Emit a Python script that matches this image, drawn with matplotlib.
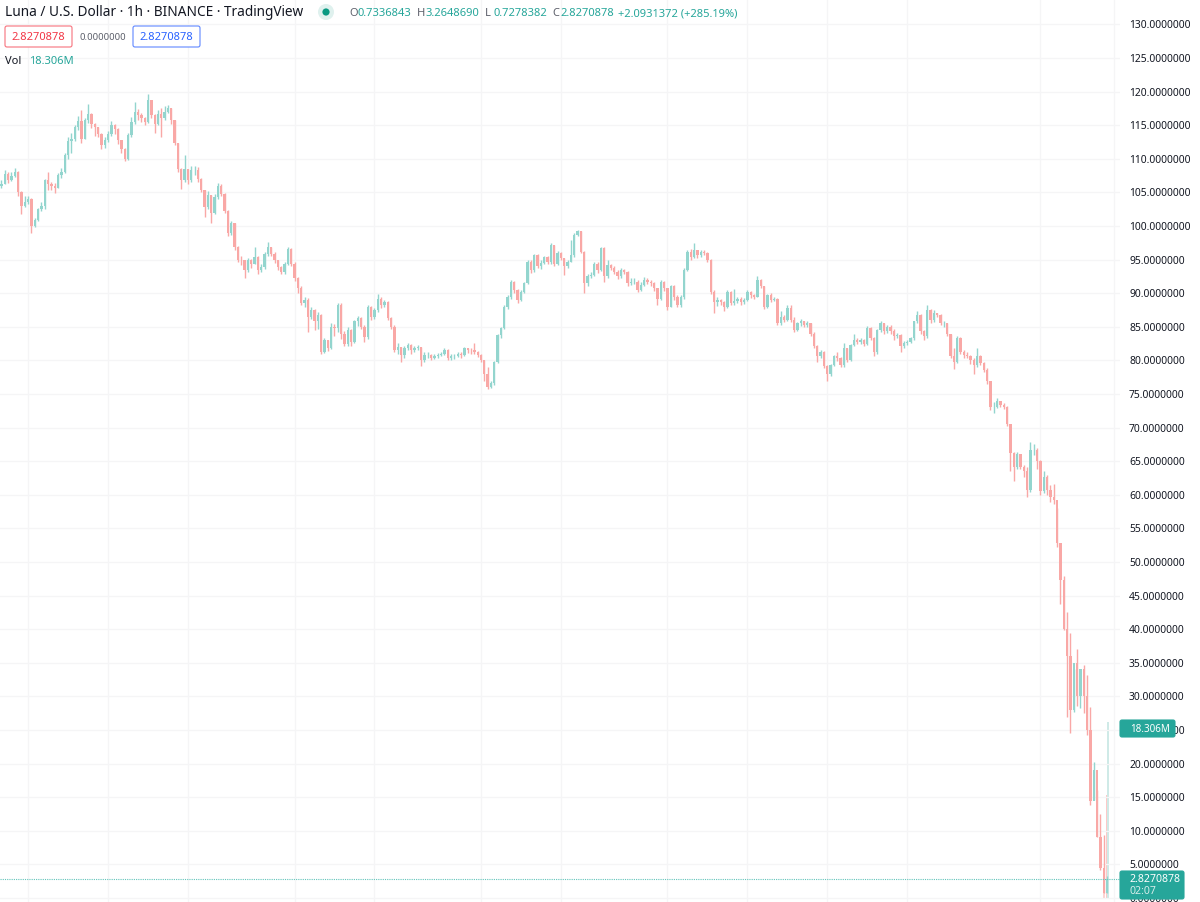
import numpy as np
import matplotlib
matplotlib.use("Agg")
import matplotlib.pyplot as plt
from matplotlib.patches import FancyBboxPatch, Circle

# hourly closes
closes = [
    106.3,107.8,106.8,107.4,108.0,105.0,103.0,103.6,104.0,100.0,
    100.9,102.5,103.0,106.8,106.3,105.9,105.7,107.6,108.1,110.5,
    112.6,112.9,114.8,115.6,113.0,115.7,116.7,115.2,114.7,113.7,
    112.0,112.8,113.7,115.0,114.5,112.8,111.5,110.0,113.5,115.5,
    117.0,116.5,116.0,115.5,118.7,116.5,115.2,116.7,116.0,117.0,
    117.5,115.7,112.3,108.5,106.8,108.5,106.8,108.3,108.3,107.0,
    105.3,102.8,104.6,102.0,104.3,106.0,104.8,102.3,98.9,100.4,
    96.9,95.0,94.9,93.4,94.9,94.4,95.4,93.4,93.9,95.9,
    96.9,95.9,94.9,93.9,93.2,94.4,96.6,94.4,92.2,90.7,
    88.5,89.0,86.5,87.5,85.8,86.8,81.3,83.0,81.8,85.0,
    84.8,88.3,84.0,82.5,84.5,82.8,85.8,86.3,85.0,83.5,
    88.0,86.5,87.5,89.2,88.3,88.7,86.3,85.0,81.5,82.0,
    80.8,81.8,82.3,81.5,81.8,82.0,80.0,80.8,80.8,80.3,
    80.6,80.8,81.0,81.6,80.3,80.6,80.6,81.0,80.8,81.8,
    81.6,81.5,81.3,80.8,80.0,78.0,76.0,76.6,79.8,83.8,
    84.8,88.0,89.5,91.7,90.5,89.0,90.2,91.5,94.7,93.5,
    95.7,94.0,94.5,95.4,94.7,97.2,94.4,96.0,95.2,94.0,
    94.7,95.7,98.7,99.2,96.2,91.5,92.5,92.7,94.4,93.5,
    96.7,92.5,94.2,93.7,93.2,92.5,93.5,93.2,91.5,91.7,
    91.7,90.5,91.2,92.0,91.7,91.5,90.7,89.2,91.7,90.7,
    88.0,91.0,89.5,88.3,89.5,93.5,96.2,95.4,96.4,95.7,
    96.2,96.0,95.0,90.2,88.7,89.0,88.7,88.0,90.2,88.5,
    88.9,89.2,88.7,89.0,90.2,89.7,89.5,92.0,91.0,88.0,
    89.7,89.0,89.2,85.5,86.5,86.0,87.8,86.0,84.5,85.5,
    85.8,85.3,85.5,84.0,82.1,80.6,81.3,79.1,78.0,79.3,
    80.6,80.3,79.3,81.8,80.1,82.3,83.0,82.8,83.0,82.5,
    84.8,83.3,81.3,84.5,85.5,84.3,85.0,84.3,83.6,83.8,
    82.1,82.6,82.8,83.3,85.8,86.8,84.3,83.6,87.5,86.0,
    87.0,86.8,85.5,85.5,84.0,80.6,79.8,83.3,81.3,80.8,
    80.6,80.1,79.3,80.6,79.6,78.6,76.9,73.1,73.1,73.9,
    73.4,73.1,70.6,66.2,64.2,66.0,64.2,63.5,60.7,66.7,
    66.7,65.0,60.5,62.7,60.7,59.7,59.2,52.8,47.3,40.1,
    36.0,28.0,35.0,30.0,34.0,30.0,25.0,14.5,19.0,9.1,
    4.5,0.7336843,2.8270878,
]
highs = [
    106.9,108.4,108.0,108.0,108.7,108.2,105.2,104.4,104.4,104.1,
    101.2,102.7,103.5,107.0,108.0,106.5,106.4,107.9,108.6,110.8,
    113.2,113.9,115.0,116.3,117.2,116.0,118.1,116.8,115.4,114.8,
    113.8,113.2,114.2,115.6,115.2,114.6,112.8,111.6,113.9,116.2,
    118.5,117.4,116.8,116.2,119.6,118.8,116.6,117.3,117.6,117.8,
    118.0,117.6,115.8,112.4,108.6,110.6,108.5,109.0,109.0,108.8,
    107.2,105.4,105.2,104.6,104.8,106.4,106.2,104.9,102.4,100.8,
    100.5,97.0,95.6,95.0,95.2,95.1,96.8,95.5,94.3,96.2,
    97.6,96.9,96.1,95.0,94.0,94.7,96.9,96.7,94.6,92.4,
    91.0,89.5,89.3,87.9,87.6,87.2,86.9,83.4,83.1,85.5,
    85.4,88.5,88.6,84.3,84.9,84.7,86.0,86.6,86.4,85.2,
    88.2,88.1,87.8,89.9,89.4,89.0,88.8,86.5,85.2,82.6,
    82.0,82.1,82.6,82.4,82.1,82.3,82.0,81.2,81.2,81.0,
    80.9,81.1,81.3,81.9,81.7,80.9,81.0,81.2,81.3,82.0,
    81.9,81.8,82.6,81.4,80.9,80.1,79.0,77.0,79.9,83.9,
    85.0,88.2,89.8,92.0,91.8,90.6,90.4,91.7,94.9,95.0,
    95.9,95.9,94.9,95.6,95.5,97.4,97.2,96.3,96.1,95.3,
    94.9,97.9,98.9,99.4,99.2,96.3,92.8,93.2,94.7,94.6,
    96.9,96.8,95.0,94.3,94.0,93.4,93.8,93.6,93.3,92.2,
    92.3,91.9,91.6,92.4,92.3,91.9,91.6,90.8,91.9,91.8,
    90.8,91.2,91.2,89.7,89.7,93.7,96.4,96.6,97.4,96.4,
    96.5,96.4,96.2,95.1,90.4,89.5,89.2,88.9,90.5,90.3,
    90.6,89.5,89.4,89.3,90.4,90.3,89.9,92.5,92.1,91.0,
    89.9,90.0,89.5,89.3,87.3,86.8,88.2,88.3,86.5,85.7,
    86.1,85.9,85.9,85.6,84.2,82.3,81.6,81.4,79.3,79.5,
    80.8,81.3,80.5,82.6,81.9,82.5,84.0,83.3,83.4,83.2,
    85.1,84.9,83.5,84.7,85.8,85.5,85.3,85.2,84.6,84.1,
    84.0,82.9,83.0,83.5,85.9,87.3,86.9,84.5,88.3,87.6,
    87.5,87.1,86.9,85.8,85.6,84.0,81.8,83.6,83.5,81.5,
    81.2,80.8,80.3,81.8,80.8,79.8,78.8,77.0,73.8,74.4,
    74.0,73.6,73.2,70.6,66.4,66.4,66.1,64.5,64.2,67.9,
    67.5,66.9,65.2,63.5,62.9,61.5,61.6,58.1,52.2,47.9,
    42.6,39.5,34.0,37.0,34.0,34.7,33.2,28.4,20.3,16.0,
    12.5,9.3,3.2648690,
]
lows = [
    105.6,106.2,106.4,106.7,107.3,104.4,101.8,102.8,103.2,99.0,
    99.9,100.7,102.2,102.6,105.4,105.3,104.9,105.6,107.2,107.9,
    110.0,110.8,112.7,114.3,112.3,113.0,115.3,114.6,113.4,113.2,
    111.4,111.6,112.5,113.4,113.7,112.2,110.9,109.6,109.8,113.3,
    115.2,115.8,115.5,115.0,115.4,116.0,113.9,115.0,113.2,115.8,
    116.8,115.2,112.0,108.0,105.5,106.6,106.2,106.6,107.6,106.6,
    105.0,101.4,102.6,100.4,101.8,104.0,104.4,102.0,98.5,98.6,
    96.5,94.6,94.2,92.3,93.2,93.8,94.3,92.9,93.2,93.6,
    95.6,95.5,94.5,93.5,92.8,92.9,94.2,94.0,91.8,90.0,
    88.2,88.0,84.2,86.2,84.5,84.6,81.0,81.1,81.4,81.7,
    83.6,84.2,83.2,82.1,82.2,82.1,82.6,85.1,84.6,82.7,
    83.2,86.0,86.1,87.2,87.8,87.9,86.0,84.6,81.2,80.9,
    79.7,80.3,81.5,81.0,81.2,81.6,79.2,79.8,80.3,80.0,
    80.2,80.4,80.6,80.8,80.0,80.0,80.2,80.5,80.4,80.6,
    81.1,81.0,80.9,80.5,79.7,77.0,75.8,75.9,76.4,79.6,
    83.4,84.6,87.6,89.2,90.0,88.6,88.8,90.0,91.3,93.0,
    93.2,93.7,93.6,94.3,94.3,94.4,94.1,94.2,94.9,92.7,
    93.8,94.6,95.4,98.5,96.0,90.1,91.0,92.2,92.5,93.0,
    93.3,91.7,92.3,93.4,92.9,92.1,92.2,92.9,91.0,91.2,
    91.3,90.2,90.3,91.0,91.3,91.1,90.3,88.3,89.0,90.3,
    87.5,88.0,89.0,87.9,87.9,89.2,93.3,95.0,95.2,95.3,
    95.4,95.7,94.7,89.9,87.1,88.1,88.2,87.4,87.8,88.2,
    88.3,88.6,88.3,88.4,88.8,89.3,89.2,89.4,90.7,87.7,
    87.8,88.7,88.8,85.2,85.3,85.7,85.8,85.7,84.2,84.4,
    85.1,85.0,85.0,83.7,81.9,79.8,80.3,78.9,76.9,77.7,
    79.1,79.9,79.0,79.0,79.8,79.9,82.1,82.4,82.5,82.2,
    82.3,83.0,80.7,81.0,84.2,84.0,84.1,84.0,83.1,83.3,
    81.3,81.8,82.3,82.6,83.1,85.5,84.0,83.0,83.4,85.6,
    85.7,86.4,85.2,84.9,83.7,80.3,78.7,79.6,81.0,80.4,
    80.3,79.5,77.9,79.0,79.3,78.2,76.5,72.6,72.2,72.9,
    73.1,72.7,70.3,63.5,62.0,63.9,63.8,62.6,59.6,60.4,
    65.9,63.8,60.0,60.3,59.9,58.9,58.7,52.3,43.7,39.9,
    27.0,24.6,27.7,28.5,28.3,27.5,24.3,13.9,14.6,9.0,
    4.2,0.7,0.7278382,
]
volumes_m = [1.75, 10.8, 18.306]
volume_bars = [331.2, 332.1, 332.4]
volume_colors = ["#fcd3d2", "#fcc9c8", "#cfeae7"]

price_ticks = list(range(0, 135, 5))
grid_bars = [8, 32, 56, 88, 112, 144, 168, 200, 224, 248, 272, 312, 334]

UP = "#93d5ce"
DOWN = "#f9a8a6"
TEAL = "#26a69a"
TEXT = "#131722"
GREY = "#5d606b"

plt.rcParams["font.family"] = ["Noto Sans", "DejaVu Sans"]

fig = plt.figure(figsize=(12, 9.02), dpi=100)
ax = fig.add_axes([0, 0, 1120 / 1200, 1])
closes = np.array(closes)
opens = np.r_[106.0, closes[:-1]]
bars = np.arange(len(closes))
colors = [UP if c >= o else DOWN for o, c in zip(opens, closes)]

# volume sits in its own scale, only the last bars reach into view
vol_ax = ax.twinx()
vol_ax.set_ylim(-0.31, 93.0)
vol_ax.bar(volume_bars, volumes_m, width=0.55, color=volume_colors, linewidth=0)
vol_ax.axis("off")

ax.set_zorder(vol_ax.get_zorder() + 1)
ax.patch.set_visible(False)

ax.set_xlim(-0.45, 335.9)
ax.set_ylim(-0.6, 133.63)
ax.set_yticks(price_ticks)
ax.set_yticklabels(["%.7f" % t for t in price_ticks])
ax.yaxis.tick_right()
ax.tick_params(axis="y", length=0, pad=6.5, labelsize=7.45, labelcolor=TEXT)
ax.set_xticks(grid_bars)
ax.tick_params(axis="x", length=0, labelbottom=False)
ax.grid(True, color="#f5f5f6", linewidth=0.9)
ax.set_axisbelow(True)
for s in ax.spines.values():
    s.set_visible(False)

ax.vlines(bars, lows, highs, colors=colors, linewidth=1.0)
ax.bar(bars, np.abs(closes - opens), bottom=np.minimum(opens, closes),
       width=0.7, color=colors, linewidth=0)
ax.axhline(closes[-1], color="#62c4ba", linewidth=0.8, linestyle=(0, (1, 1)))

# header and price tags, in pixel coordinates
over = fig.add_axes([0, 0, 1, 1], zorder=10)
over.set_xlim(0, 1200)
over.set_ylim(902, 0)
over.axis("off")

over.text(5, 12, "Luna / U.S. Dollar · 1h · BINANCE · TradingView", fontsize=9.8,
          color=TEXT, va="center")
over.add_patch(Circle((326, 12), 8, color="#dff1ee", linewidth=0))
over.add_patch(Circle((326, 12), 3.6, color="#089981", linewidth=0))

ohlc = [("O", "0.7336843", 349), ("H", "3.2648690", 417), ("L", "0.7278382", 485),
        ("C", "2.8270878", 552)]
for letter, value, x in ohlc:
    over.text(x, 14, letter, fontsize=8.0, color=GREY, va="center")
    over.text(x + 8.5, 14, value, fontsize=8.0, color=TEAL, va="center")
over.text(618, 14, "+2.0931372 (+285.19%)", fontsize=8.0, color=TEAL, va="center")


def tag(x0, y0, w, h, edge, face="white"):
    over.add_patch(FancyBboxPatch((x0 + 2, y0 + 2), w - 4, h - 4,
                                  boxstyle="round,pad=2", facecolor=face,
                                  edgecolor=edge, linewidth=0.8))


tag(5, 26, 67, 21, "#f7727c")
over.text(38.5, 37, "2.8270878", fontsize=8.0, color="#f23645", ha="center", va="center")
over.text(80, 37, "0.0000000", fontsize=6.9, color=GREY, va="center")
tag(133, 26, 67, 21, "#5f87ff")
over.text(166.5, 37, "2.8270878", fontsize=8.0, color="#2962ff", ha="center", va="center")

over.text(5, 62, "Vol", fontsize=8.0, color=TEXT, va="center")
over.text(29, 62, "18.306M", fontsize=8.0, color=TEAL, va="center")

tag(1120, 720, 55, 17, TEAL, TEAL)
over.text(1130, 729, "18.306M", fontsize=7.1, color="white", va="center")
tag(1120, 871, 64, 28, TEAL, TEAL)
over.text(1129, 879, "2.8270878", fontsize=7.6, color="white", va="center")
over.text(1129, 891, "02:07", fontsize=7.6, color="#d4edea", va="center")

fig.savefig("out.png", dpi=100)
